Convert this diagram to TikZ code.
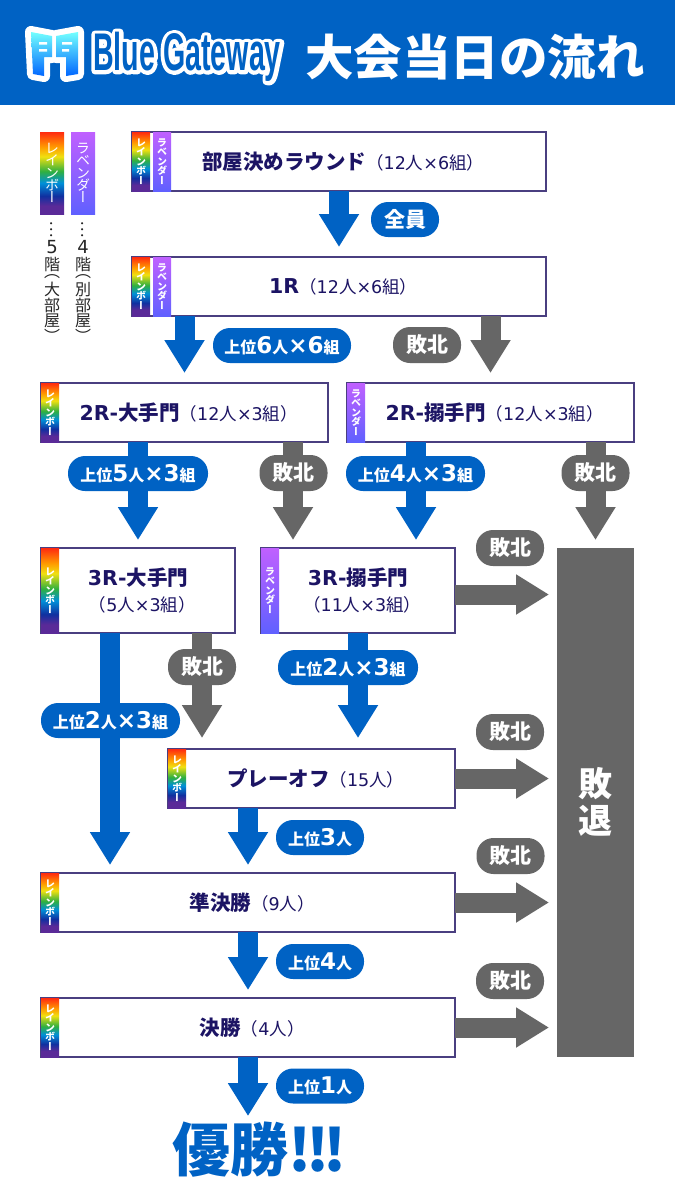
\documentclass[tikz,border=0pt]{standalone}
\usepackage{fontspec}
\usepackage{graphicx}
\usetikzlibrary{arrows.meta}
\setmainfont{DejaVu Sans}
\newfontfamily\jpfont{Noto Sans CJK JP}
\newfontfamily\jpvert[RawFeature={+vert}]{Noto Sans CJK JP}
\newfontfamily\logofont[FakeStretch=0.54,UprightFont=* Bold]{Liberation Sans}
\newfontfamily\logohalo[FakeStretch=0.54,FakeBold=14,UprightFont=* Bold]{Liberation Sans}
\definecolor{gateBlue}{HTML}{0062C4}
\definecolor{loseGray}{HTML}{666666}
\definecolor{stageInk}{HTML}{1C1464}
\definecolor{stageEdge}{HTML}{4A3F80}
\definecolor{rbA}{HTML}{FF2A10}
\definecolor{rbB}{HTML}{FF9A00}
\definecolor{rbC}{HTML}{F0E010}
\definecolor{rbD}{HTML}{30B040}
\definecolor{rbE}{HTML}{0090D8}
\definecolor{rbF}{HTML}{1030A0}
\definecolor{rbG}{HTML}{5A2A98}
\definecolor{lvA}{HTML}{C060FF}
\definecolor{lvB}{HTML}{6060FF}
\pgfdeclareverticalshading{rainbowStrip}{100bp}{color(0bp)=(rbG);color(30bp)=(rbG);color(36bp)=(rbF);color(44bp)=(rbE);
  color(51bp)=(rbD);color(60bp)=(rbC);color(66bp)=(rbB);color(75bp)=(rbA);color(100bp)=(rbA)}
\pgfdeclareverticalshading{lavenderStrip}{100bp}{color(0bp)=(lvB);color(25bp)=(lvB);color(75bp)=(lvA);color(100bp)=(lvA)}
\newcommand{\rbtext}{レ\\イ\\ン\\ボ\\ー}
\newcommand{\lvtext}{ラ\\ベ\\ン\\ダ\\ー}
\newcommand{\headtxt}[2]{{\fontsize{20.5}{24}\selectfont\bfseries #1{\jpfont #2}}}
\newcommand{\grouptxt}[2]{{\jpfont （}#1{\jpfont 人}×#2{\jpfont 組）}\kern-8.5pt}
\newcommand{\peopletxt}[1]{{\jpfont （}#1{\jpfont 人）}\kern-8.5pt}
\newcommand{\pillnum}{\fontsize{23}{24}\selectfont}
\newcommand{\topn}[1]{{\jpfont 上位}{\pillnum #1}{\jpfont 人}}
\newcommand{\topgr}[2]{\topn{#1}{\pillnum ×#2}{\jpfont 組}}
\newcommand{\floortxt}[2]{\rotatebox[origin=c]{90}{\jpfont …}\\[1pt]{\normalfont\fontsize{18}{16}\selectfont #1}\\[1pt]階\\[-9pt]（\\[2pt]#2\\部\\[-0.5pt]屋\\）}
\begin{document}
\begin{tikzpicture}[x=1pt,y=-1pt,
    stageBox/.style={draw=stageEdge,fill=white,line width=1.5pt,inner sep=0pt,outer sep=0pt,align=center,
      text=stageInk,font=\fontsize{17.5}{26}\selectfont},
    rbStrip/.style={shading=rainbowStrip,inner sep=0pt,outer sep=0pt,minimum width=18pt,anchor=north west,
      text=white,align=center,font=\jpvert\bfseries\fontsize{10}{9.4}\selectfont},
    lvStrip/.style={rbStrip,shading=lavenderStrip},
    legendStrip/.style={minimum width=24pt,minimum height=82pt,font=\jpvert\fontsize{14}{12.2}\selectfont},
    legendText/.style={inner sep=0pt,align=center,text=black!85,font=\jpvert\fontsize{16}{16}\selectfont},
    goArrow/.style={line width=20pt,gateBlue,-{Triangle[width=38pt,length=33pt]}},
    loseArrow/.style={goArrow,loseGray,-{Triangle[width=38pt,length=33pt]}},
    goPill/.style={fill=gateBlue,rounded corners=17pt,minimum height=35pt,inner sep=0pt,outer sep=0pt,
      text=white,font=\bfseries\fontsize{16}{18}\selectfont},
    losePill/.style={goPill,fill=loseGray,minimum width=68pt,minimum height=36pt,
      font=\jpfont\bfseries\fontsize{21}{24}\selectfont},
]
\useasboundingbox (0,0) rectangle (675,1200);
\fill[white] (0,0) rectangle (675,1200);
% Header
\node[fill=gateBlue,minimum width=675pt,minimum height=105pt,inner sep=0pt,outer sep=0pt] (header) at (337.5,52.5) {};
\draw[white,line width=12pt,line join=round,fill=white] (31,32) -- (52,36) -- (52,57) -- (44,57) -- (44,76) -- (33,74) -- cycle
  (56,36) -- (78,32) -- (78,74) -- (66,76) -- (66,57) -- (56,57) -- cycle;
\path[top color=cyan!55!white,bottom color=blue!60!cyan] (31,32) -- (52,36) -- (52,57) -- (44,57) -- (44,76) -- (33,74) -- cycle;
\path[top color=cyan!55!white,bottom color=blue!60!cyan] (56,36) -- (78,32) -- (78,74) -- (66,76) -- (66,57) -- (56,57) -- cycle;
\fill[white] (39,42) rectangle (47,44.5) (39,49) rectangle (47,51.5) (62,42) rectangle (72,44.5) (62,49) rectangle (69,51.5);
\node[inner sep=0pt,anchor=west,font=\fontsize{53}{53}\selectfont] (logo) at (93,57)
  {\pgfsetroundjoin\rlap{\logohalo\color{white}Blue Gateway}{\logofont\color{gateBlue}Blue Gateway}};
\node[text=white,inner sep=0pt,font=\jpfont\bfseries\fontsize{48.5}{50}\selectfont] (title) at (475,57) {大会当日の流れ};
% Legend
\node[rbStrip,legendStrip] (legendRB) at (40,132) {\rbtext};
\node[lvStrip,legendStrip] (legendLV) at (71,132) {\lvtext};
\node[legendText,anchor=north] (legendRBText) at (legendRB.south |- 0,221) {\floortxt{5}{大}};
\node[legendText,anchor=north] (legendLVText) at (legendLV.south |- 0,221) {\floortxt{4}{別}};
% Stages
\node[stageBox,minimum width=414pt,minimum height=59pt] (room) at (339,161.5) {\headtxt{}{部屋決めラウンド}\grouptxt{12}{6}};
\node[stageBox,minimum width=414pt,minimum height=59pt] (r1) at (339,286.5) {\headtxt{1R}{}\grouptxt{12}{6}};
\node[stageBox,minimum width=287pt,minimum height=59pt] (ohte2) at (184.5,412.5) {\headtxt{2R-}{大手門}\grouptxt{12}{3}};
\node[stageBox,minimum width=287pt,minimum height=59pt] (karame2) at (490.5,412.5) {\headtxt{2R-}{搦手門}\grouptxt{12}{3}};
\node[stageBox,minimum width=194pt,minimum height=85pt] (ohte3) at (138,590.5) {\headtxt{3R-}{大手門}\\\grouptxt{5}{3}};
\node[stageBox,minimum width=194pt,minimum height=85pt] (karame3) at (358,590.5) {\headtxt{3R-}{搦手門}\\\grouptxt{11}{3}};
\node[stageBox,minimum width=287pt,minimum height=59pt] (playoff) at (311.5,778.5) {\headtxt{}{プレーオフ}\peopletxt{15}};
\node[stageBox,minimum width=414pt,minimum height=59pt] (semi) at (248,902.5) {\headtxt{}{準決勝}\peopletxt{9}};
\node[stageBox,minimum width=414pt,minimum height=59pt] (final) at (248,1027.5) {\headtxt{}{決勝}\peopletxt{4}};
\node[fill=loseGray,minimum width=77pt,minimum height=509pt,inner sep=0pt,outer sep=0pt] (defeat) at (595.5,802.5) {};
\node[text=white,align=center,inner sep=0pt,font=\jpfont\bfseries\fontsize{34}{37}\selectfont] (defeatText) at (595.5,802) {敗\\退};
\node[text=gateBlue,inner sep=0pt,font=\jpfont\bfseries\fontsize{58}{60}\selectfont] (win) at (259.5,1150) {優勝!\kern-5.5pt!\kern-5.5pt!};
% Strips on the stages
\node[rbStrip,minimum height=59pt] (roomRB) at (room.north west) {\rbtext};
\node[lvStrip,minimum height=59pt] (roomLV) at ([xshift=21pt]room.north west) {\lvtext};
\node[rbStrip,minimum height=59pt] (r1RB) at (r1.north west) {\rbtext};
\node[lvStrip,minimum height=59pt] (r1LV) at ([xshift=21pt]r1.north west) {\lvtext};
\node[rbStrip,minimum height=59pt] (ohte2RB) at (ohte2.north west) {\rbtext};
\node[lvStrip,minimum height=59pt] (karame2LV) at (karame2.north west) {\lvtext};
\node[rbStrip,minimum height=85pt] (ohte3RB) at (ohte3.north west) {\rbtext};
\node[lvStrip,minimum height=85pt] (karame3LV) at (karame3.north west) {\lvtext};
\node[rbStrip,minimum height=59pt] (playoffRB) at (playoff.north west) {\rbtext};
\node[rbStrip,minimum height=59pt] (semiRB) at (semi.north west) {\rbtext};
\node[rbStrip,minimum height=59pt] (finalRB) at (final.north west) {\rbtext};
% Winners go down
\draw[goArrow,shorten >=10pt] (room.south) -- (r1.north);
\draw[goArrow,shorten >=10pt] (r1.south -| ohte2.north) -- (ohte2.north);
\draw[goArrow,shorten >=8pt] (ohte2.south -| ohte3.north) -- (ohte3.north);
\draw[goArrow,shorten >=8pt] ([xshift=58pt]karame2.south -| karame3.north) -- ([xshift=58pt]karame3.north);
\draw[goArrow,shorten >=8pt] ([xshift=-28pt]ohte3.south) -- ([xshift=-28pt]ohte3.south |- semi.north);
\draw[goArrow,shorten >=11pt] (karame3.south) -- (karame3.south |- playoff.north);
\draw[goArrow,shorten >=8pt] (playoff.south -| semi.north) -- (semi.north);
\draw[goArrow,shorten >=8pt] (semi.south) -- (final.north);
\draw[goArrow] (final.south) -- ([yshift=6pt]final.south |- win.north);
% Losers go down or to the right
\draw[loseArrow,shorten >=10pt] (r1.south -| karame2.north) -- (karame2.north);
\draw[loseArrow,shorten >=8pt] ([xshift=-65pt]karame3.north |- ohte2.south) -- ([xshift=-65pt]karame3.north);
\draw[loseArrow,shorten >=8pt] (karame2.south -| defeat.north) -- (defeat.north);
\draw[loseArrow,shorten >=11pt] ([xshift=64pt]ohte3.south) -- ([xshift=64pt]ohte3.south |- playoff.north);
\draw[loseArrow,shorten >=8pt] ([yshift=-4pt]karame3.east) -- ([yshift=-4pt]karame3.east -| defeat.west);
\draw[loseArrow,shorten >=8pt] (playoff.east) -- (playoff.east -| defeat.west);
\draw[loseArrow,shorten >=8pt] (semi.east) -- (semi.east -| defeat.west);
\draw[loseArrow,shorten >=8pt] (final.east) -- (final.east -| defeat.west);
% Pills
\node[goPill,minimum width=68pt,font=\jpfont\bfseries\fontsize{21}{24}\selectfont] (pillAll) at (405,219.5) {全員};
\node[goPill,minimum width=138pt] (pillR1) at (282,345.5) {\topgr{6}{6}};
\node[losePill] (loseR1) at (427,345) {敗北};
\node[goPill,minimum width=140pt] (pillOhte2) at (138,473.5) {\topgr{5}{3}};
\node[losePill] (loseOhte2) at (293.5,473) {敗北};
\node[goPill,minimum width=139pt] (pillKarame2) at (415.5,473.5) {\topgr{4}{3}};
\node[losePill] (loseKarame2) at (595.5,473) {敗北};
\node[losePill] (loseKarame3) at (510,548) {敗北};
\node[losePill] (loseOhte3) at (202,667) {敗北};
\node[goPill,minimum width=140pt] (pillKarame3) at (348,667.5) {\topgr{2}{3}};
\node[goPill,minimum width=139pt] (pillOhte3) at (110.5,720.5) {\topgr{2}{3}};
\node[losePill] (losePlayoff) at (510,732) {敗北};
\node[goPill,minimum width=88pt] (pillPlayoff) at (320,837.5) {\topn{3}};
\node[losePill] (loseSemi) at (510.5,856) {敗北};
\node[goPill,minimum width=88pt] (pillSemi) at (320,961.5) {\topn{4}};
\node[losePill] (loseFinal) at (510,981) {敗北};
\node[goPill,minimum width=88pt] (pillFinal) at (320,1086) {\topn{1}};
\end{tikzpicture}
\end{document}
